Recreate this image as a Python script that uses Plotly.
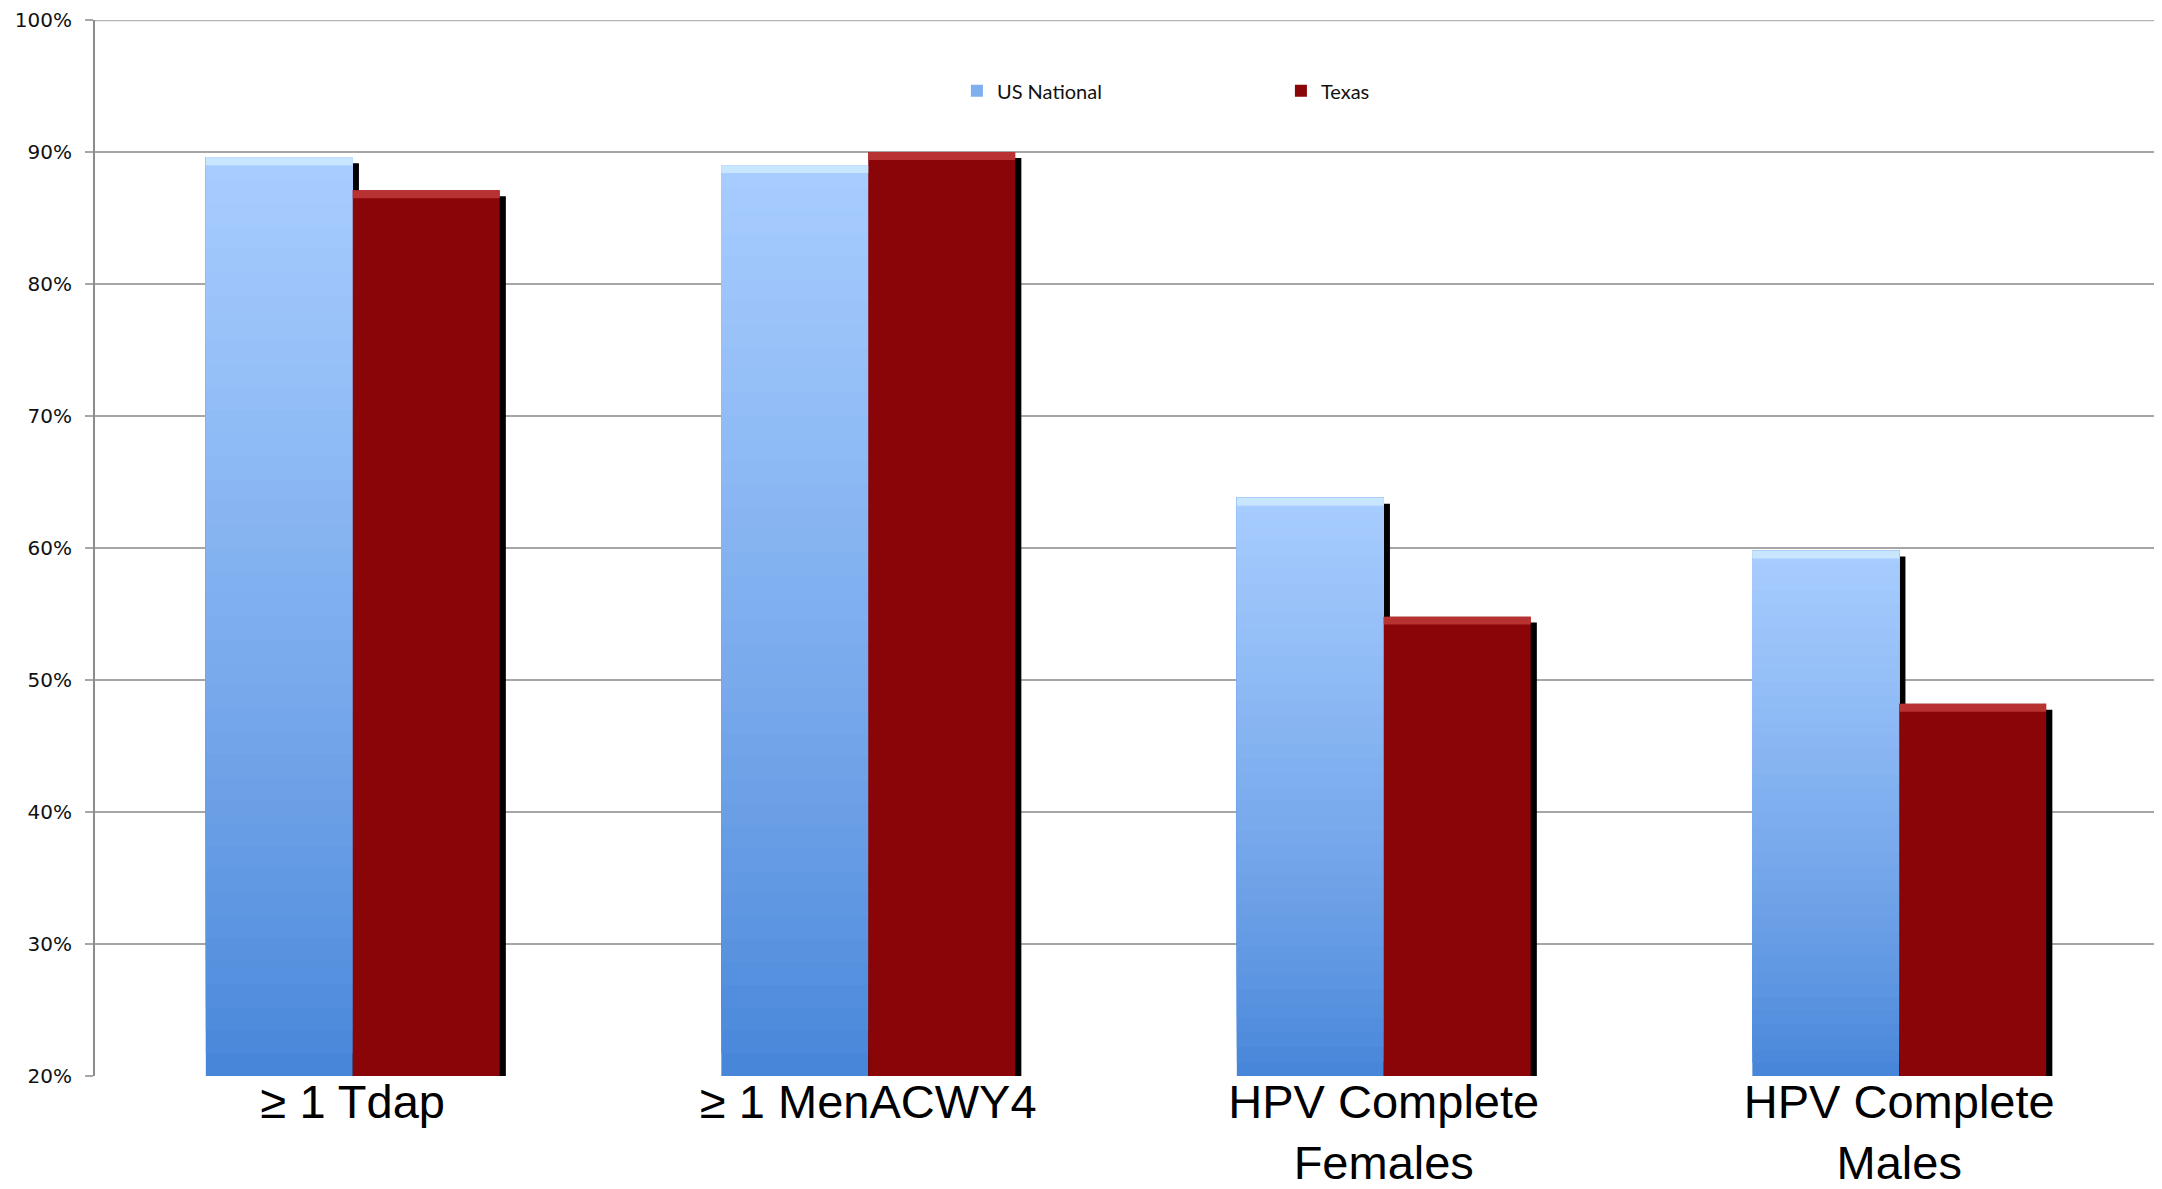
import plotly.graph_objects as go

categories = ["≥ 1 Tdap", "≥ 1 MenACWY4", "HPV Complete<br>Females", "HPV Complete<br>Males"]
us_national = [89.6, 89.0, 63.8, 59.8]
texas = [87.1, 90.0, 54.8, 48.2]
y_ticks = [20, 30, 40, 50, 60, 70, 80, 90, 100]
y_tick_labels = ["20%", "30%", "40%", "50%", "60%", "70%", "80%", "90%", "100%"]

AX_MIN = 20
BAR_W = 0.285
N_SEG = 40
SH_DX = 0.012
SH_DY = 0.45

def lerp(c1, c2, t):
    return "#%02x%02x%02x" % tuple(int(round(a + (b - a) * t)) for a, b in zip(c1, c2))

blue_bottom = (0x45, 0x84, 0xd8)
blue_top = (0xa8, 0xcd, 0xff)

x = list(range(len(categories)))
fig = go.Figure()

# shadows
for vals, off in ((us_national, -BAR_W), (texas, 0.0)):
    fig.add_trace(go.Bar(
        x=x, y=[v - AX_MIN for v in vals], base=[AX_MIN - SH_DY] * len(vals),
        width=BAR_W, offset=off + SH_DX, marker=dict(color="#000000", line=dict(width=0)),
        showlegend=False, hoverinfo="skip", cliponaxis=False))

# US National gradient bar: overlapping layers, each reaching the bar's top
for i in range(N_SEG):
    t = (i + 0.5) / N_SEG
    base = [AX_MIN + (v - AX_MIN) * i / N_SEG for v in us_national]
    fig.add_trace(go.Bar(
        x=x, y=[v - b for v, b in zip(us_national, base)], base=base,
        width=BAR_W, offset=-BAR_W,
        marker=dict(color=lerp(blue_bottom, blue_top, t ** 0.8), line=dict(width=0)),
        name="US National", legendgroup="us", showlegend=(i == N_SEG // 2),
        hoverinfo="skip", cliponaxis=False))

# Texas bars
fig.add_trace(go.Bar(
    x=x, y=[v - AX_MIN for v in texas], base=[AX_MIN] * len(texas),
    width=BAR_W, offset=0.0, marker=dict(color="#8a0507", line=dict(width=0)),
    name="Texas", legendgroup="tx", showlegend=True, hoverinfo="skip", cliponaxis=False))

# bevel highlights at bar tops
BEV = 0.6
fig.add_trace(go.Bar(
    x=x, y=[BEV] * len(us_national), base=[v - BEV for v in us_national],
    width=BAR_W, offset=-BAR_W, marker=dict(color="#c9e6ff", line=dict(width=0)),
    showlegend=False, hoverinfo="skip"))
fig.add_trace(go.Bar(
    x=x, y=[BEV] * len(texas), base=[v - BEV for v in texas],
    width=BAR_W, offset=0.0, marker=dict(color="#b83232", line=dict(width=0)),
    showlegend=False, hoverinfo="skip"))

fig.update_layout(
    width=2162, height=1189,
    paper_bgcolor="white", plot_bgcolor="white",
    margin=dict(l=87, r=13, t=12, b=121),
    barmode="overlay",
    showlegend=True,
    legend=dict(orientation="h", x=0.418, y=0.933, xanchor="left", yanchor="middle",
                entrywidth=279, font=dict(family="Lato", size=20, color="#111111"),
                bgcolor="rgba(0,0,0,0)", itemsizing="constant", itemwidth=30),
    xaxis=dict(tickmode="array", tickvals=x, ticktext=categories,
               range=[-0.5, len(categories) - 0.5], showgrid=False, zeroline=False,
               showline=False, ticks="", automargin=False, ticklabelstandoff=-6,
               ticklabeloverflow="allow",
               tickfont=dict(family="Liberation Sans, Arial", size=47, color="#000000")),
    yaxis=dict(range=[AX_MIN, 100], tickmode="array", tickvals=y_ticks, ticktext=y_tick_labels,
               showgrid=True, gridcolor="#a6a6a6", gridwidth=1.5, zeroline=False,
               showline=True, linecolor="#8c8c8c", linewidth=2, automargin=False,
               ticks="outside", ticklen=8, tickcolor="#a6a6a6", tickwidth=1.5,
               ticklabelstandoff=9, ticklabeloverflow="allow",
               tickfont=dict(family="DejaVu Sans", size=20, color="#111111")),
    shapes=[dict(type="line", xref="paper", yref="y", x0=0, x1=1, y0=100, y1=100,
                 line=dict(color="#b4b4b4", width=2.5), layer="below")],
)

fig.write_html("out.html")
